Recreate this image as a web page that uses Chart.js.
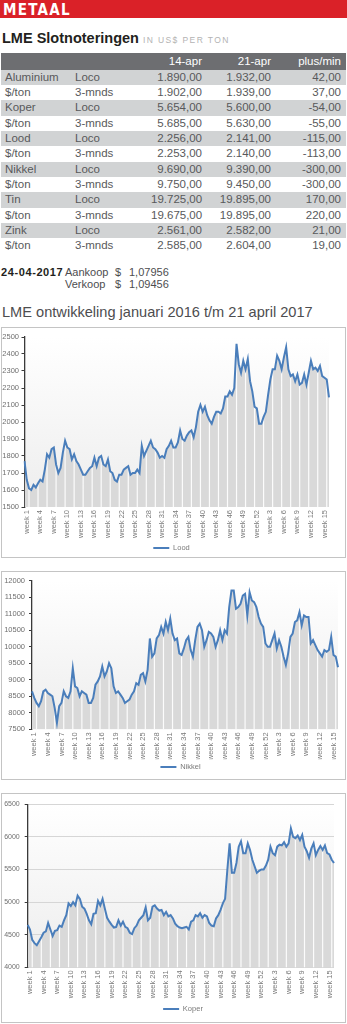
<!DOCTYPE html>
<html lang="nl">
<head>
<meta charset="utf-8">
<title>Metaal - LME</title>
<script src="https://cdn.jsdelivr.net/npm/chart.js@4.4.1/dist/chart.umd.min.js"></script>
<style>
  html, body { margin: 0; padding: 0; background: #fff; }
  body { position: relative; width: 347px; height: 1024px; overflow: hidden;
         font-family: "Liberation Sans", Arial, sans-serif; color: #58595b; }
  .kop { position: absolute; left: 0; top: 0; width: 347px; height: 17.5px; background: #da2128; }
  .kop span { position: absolute; left: 3px; top: 1px; line-height: 18px; font-size: 15px; font-weight: bold;
              font-family: "Liberation Sans Narrow", "DejaVu Sans Condensed", sans-serif; color: #fff; letter-spacing: 1.3px; }
  .titel { position: absolute; left: 2px; top: 28.8px; line-height: 17px; white-space: nowrap; }
  .titel b { font-size: 14.5px; color: #231f20; }
  .titel span { font-size: 8.5px; color: #b3b3b3; letter-spacing: 1.4px; margin-left: 4px; }
  table.koers { position: absolute; left: 1px; top: 53px; width: 345px; border-collapse: collapse;
                table-layout: fixed; font-size: 11.5px; color: #58595b; }
  .koers th { height: 16.6px; padding: 0 3px 0 0; background: #6d6e71; color: #fff; font-weight: normal;
              text-align: right; line-height: 15px; }
  .koers td { height: 15.34px; padding: 0; line-height: 15px; white-space: nowrap; }
  .koers td:nth-child(1), .koers td:nth-child(2) { padding-left: 4px; }
  .koers td:nth-child(n+3) { text-align: right; padding-right: 3px; }
  .koers td:nth-child(5), .koers th:nth-child(5) { padding-right: 5px; }
  .koers tr.grijs td { background: #d1d3d4; }
  .regel { position: absolute; line-height: 13px; font-size: 11px; color: #4d4d4f; white-space: nowrap; }
  .regel.datum { font-weight: bold; color: #231f20; letter-spacing: 0.6px; }
  .ondertitel { position: absolute; left: 2px; top: 303px; line-height: 18px; font-size: 14.6px; color: #4d4d4f; white-space: nowrap; }
  .kader { position: absolute; left: 1px; width: 345px; border: 1px solid #c4c4c4; box-sizing: border-box; }
  canvas { position: absolute; left: 2px; }
</style>
</head>
<body>
<div class="kop"><span>METAAL</span></div>
<div class="titel"><b>LME Slotnoteringen</b><span>IN US$ PER TON</span></div>

<table class="koers">
  <colgroup><col style="width:70px"><col style="width:80px"><col style="width:54px"><col style="width:69px"><col style="width:72px"></colgroup>
  <thead><tr><th></th><th></th><th>14-apr</th><th>21-apr</th><th>plus/min</th></tr></thead>
  <tbody>
    <tr class="grijs"><td>Aluminium</td><td>Loco</td><td>1.890,00</td><td>1.932,00</td><td>42,00</td></tr>
    <tr><td>$/ton</td><td>3-mnds</td><td>1.902,00</td><td>1.939,00</td><td>37,00</td></tr>
    <tr class="grijs"><td>Koper</td><td>Loco</td><td>5.654,00</td><td>5.600,00</td><td>-54,00</td></tr>
    <tr><td>$/ton</td><td>3-mnds</td><td>5.685,00</td><td>5.630,00</td><td>-55,00</td></tr>
    <tr class="grijs"><td>Lood</td><td>Loco</td><td>2.256,00</td><td>2.141,00</td><td>-115,00</td></tr>
    <tr><td>$/ton</td><td>3-mnds</td><td>2.253,00</td><td>2.140,00</td><td>-113,00</td></tr>
    <tr class="grijs"><td>Nikkel</td><td>Loco</td><td>9.690,00</td><td>9.390,00</td><td>-300,00</td></tr>
    <tr><td>$/ton</td><td>3-mnds</td><td>9.750,00</td><td>9.450,00</td><td>-300,00</td></tr>
    <tr class="grijs"><td>Tin</td><td>Loco</td><td>19.725,00</td><td>19.895,00</td><td>170,00</td></tr>
    <tr><td>$/ton</td><td>3-mnds</td><td>19.675,00</td><td>19.895,00</td><td>220,00</td></tr>
    <tr class="grijs"><td>Zink</td><td>Loco</td><td>2.561,00</td><td>2.582,00</td><td>21,00</td></tr>
    <tr><td>$/ton</td><td>3-mnds</td><td>2.585,00</td><td>2.604,00</td><td>19,00</td></tr>
  </tbody>
</table>

<div class="regel datum" style="left:1px; top:266.2px">24-04-2017</div>
<div class="regel" style="left:65px; top:266.2px">Aankoop</div>
<div class="regel" style="left:115px; top:266.2px">$</div>
<div class="regel" style="left:129px; top:266.2px">1,07956</div>
<div class="regel" style="left:65px; top:277.5px">Verkoop</div>
<div class="regel" style="left:115px; top:277.5px">$</div>
<div class="regel" style="left:129px; top:277.5px">1,09456</div>

<div class="ondertitel">LME ontwikkeling januari 2016 t/m 21 april 2017</div>

<div class="kader" style="top:327px; height:231px"></div>
<div class="kader" style="top:571px; height:209px"></div>
<div class="kader" style="top:793px; height:230px"></div>
<canvas id="grafiekLood" width="339" height="240" style="top:328px"></canvas>
<canvas id="grafiekNikkel" width="357" height="215" style="top:572px"></canvas>
<canvas id="grafiekKoper" width="362" height="230" style="top:794px"></canvas>

<script>
// weken op de x-as: 2016 week 1-52 en 2017 week 1-16, twee noteringen per week
const weken = [];
for (let w = 1; w <= 52; w++) weken.push('week ' + w);
for (let w = 1; w <= 16; w++) weken.push('week ' + w);
const categorieen = weken.flatMap(w => [w, w]);

// schaal per metaal: [min, max, stap]
const loodSchaal = [1500, 2500, 100];
const nikkelSchaal = [7500, 12000, 500];
const koperSchaal = [4000, 6500, 500];

// LME noteringen in US$ per ton
const lood = [
  1770, 1660, 1610, 1600, 1630, 1615, 1640, 1660, 1650, 1720,
  1810, 1790, 1840, 1850, 1750, 1700, 1730, 1820, 1890, 1850,
  1840, 1780, 1810, 1770, 1750, 1720, 1690, 1690, 1710, 1730,
  1740, 1790, 1740, 1790, 1800, 1750, 1740, 1780, 1710, 1700,
  1660, 1650, 1690, 1690, 1720, 1730, 1740, 1690, 1700, 1700,
  1720, 1700, 1860, 1800, 1830, 1860, 1890, 1850, 1840, 1820,
  1790, 1800, 1790, 1840, 1860, 1890, 1850, 1850, 1880, 1950,
  1900, 1890, 1920, 1940, 1950, 1910, 1970, 2060, 2100, 2060,
  2090, 2040, 2010, 1990, 2030, 2060, 2060, 2050, 2080, 2150,
  2150, 2180, 2160, 2200, 2460, 2340, 2290, 2360, 2310, 2370,
  2240, 2180, 2090, 2080, 1990, 1990, 2030, 2060, 2160, 2250,
  2310, 2310, 2390, 2360, 2310, 2380, 2440, 2310, 2270, 2280,
  2240, 2280, 2220, 2230, 2280, 2220, 2290, 2360, 2310, 2320,
  2300, 2330, 2270, 2260, 2250, 2145
];

const nikkel = [
  8650, 8450, 8300, 8200, 8350, 8650, 8700, 8600, 8550, 8500,
  8150, 7700, 8200, 8300, 8650, 8500, 8450, 8650, 9350, 8800,
  8750, 8500, 8650, 8600, 8550, 8300, 8300, 8450, 8850, 8950,
  9100, 9400, 9100, 9250, 9500, 9350, 8800, 8600, 8650, 8550,
  8450, 8300, 8350, 8400, 8550, 8650, 8900, 8850, 9150, 9200,
  8950, 9300, 10250, 9700, 9800, 10250, 10350, 10600, 10400, 10750,
  10500, 10850, 10400, 10200, 10250, 9800, 9750, 9950, 10200, 10300,
  9900, 9700, 10200, 10600, 10700, 10500, 10000, 10200, 10450, 10400,
  10300, 10000, 10200, 10500, 10200, 10500, 10400, 11200, 11700, 11700,
  11150, 11200, 11300, 11550, 11600, 10950, 11650, 11400, 11350, 11200,
  10900, 10700, 10600, 10100, 10000, 10000, 10200, 10400, 9950, 10200,
  10000, 9700, 9450, 9800, 10300, 10400, 10750, 10800, 11050, 10650,
  10950, 10900, 10900, 10100, 10200, 10050, 9900, 9800, 9700, 9900,
  9850, 9900, 10300, 9750, 9700, 9380
];

const koper = [
  4650, 4580, 4420, 4370, 4340, 4400, 4460, 4530, 4550, 4680,
  4580, 4480, 4560, 4570, 4640, 4620, 4720, 4800, 4980, 4940,
  5000, 4950, 5100, 5050, 4930, 4900, 4820, 4720, 4660, 4820,
  4830, 5020, 4950, 5050, 4900, 4760, 4700, 4650, 4610, 4620,
  4720, 4640, 4700, 4620, 4600, 4530, 4510, 4600, 4640, 4720,
  4760, 4800, 4920, 4720, 4760, 4930, 4950, 4900, 4870, 4880,
  4800, 4850, 4780, 4800, 4750, 4670, 4630, 4610, 4600, 4610,
  4620, 4580, 4700, 4720, 4800, 4780, 4830, 4760, 4800, 4780,
  4680, 4640, 4630, 4750, 4800, 4880, 4980, 5050, 5500, 5900,
  5450, 5450, 5600, 5850, 5930, 5750, 5750, 5900, 5800, 5650,
  5550, 5450, 5480, 5500, 5500, 5560, 5650, 5850, 5750, 5720,
  5850, 5880, 5870, 5920, 5850, 5900, 6130, 6000, 5980, 6020,
  5950, 6030, 5850, 5780, 5680, 5820, 5900, 5720, 5800, 5860,
  5800, 5870, 5750, 5730, 5650, 5600
];

Chart.defaults.font.family = '"Liberation Sans", Arial, sans-serif';
Chart.defaults.color = '#6f6f6f';

const lijnKleur = '#4a7ebb';
const vlakKleur = '#d9d9d9';

// licht verloop achter het plotvlak en witte streepjes door het grijze vlak
const vlakStrepen = {
  id: 'vlakStrepen',
  beforeDraw(chart) {
    const { ctx, chartArea: a } = chart;
    const g = ctx.createLinearGradient(0, a.top, 0, a.bottom);
    g.addColorStop(0, '#ffffff');
    g.addColorStop(1, '#ededed');
    ctx.save();
    ctx.fillStyle = g;
    ctx.fillRect(a.left, a.top, a.right - a.left, a.bottom - a.top);
    ctx.restore();
  },
  beforeDatasetDraw(chart, args) {
    const { ctx, chartArea: a } = chart;
    ctx.save();
    ctx.strokeStyle = 'rgba(255,255,255,0.9)';
    ctx.lineWidth = 1.2;
    ctx.beginPath();
    args.meta.data.forEach((p, i) => {
      if (i % 4 !== 2) return;
      ctx.moveTo(p.x, a.bottom);
      ctx.lineTo(p.x, p.y + 1);
    });
    ctx.stroke();
    ctx.restore();
  }
};

function tekenGrafiek(id, naam, waarden, schaal, maat) {
  const [min, max, stap] = schaal;
  return new Chart(document.getElementById(id), {
    type: 'line',
    data: {
      labels: categorieen,
      datasets: [{
        label: naam,
        data: waarden,
        borderColor: lijnKleur,
        backgroundColor: vlakKleur,
        borderWidth: 2,
        pointRadius: 0,
        fill: 'start',
        tension: 0
      }]
    },
    options: {
      responsive: false,
      animation: false,
      layout: { padding: { left: 0, right: 0, top: maat.boven, bottom: maat.onder } },
      plugins: {
        legend: {
          position: 'bottom',
          labels: {
            usePointStyle: true, pointStyle: 'line', pointStyleWidth: 16,
            padding: 4, color: '#7a7a7a', font: { size: 7.5 }
          }
        },
        tooltip: { enabled: false }
      },
      scales: {
        x: {
          grid: { display: false, drawTicks: false },
          border: { display: false },
          ticks: {
            autoSkip: false, minRotation: 90, maxRotation: 90, padding: 3,
            color: '#7a7a7a', font: { size: 7.5 },
            // om de drie weken een label
            callback(v, i) { return i % 6 === 1 ? this.getLabelForValue(v) : ''; }
          },
          afterFit(s) { s.height = maat.xHoogte; }
        },
        y: {
          min, max,
          ticks: {
            stepSize: stap, padding: maat.labelAfstand, color: '#6f6f6f', font: { size: maat.labelMaat },
            callback: v => String(v)
          },
          grid: { drawOnChartArea: maat.rasterLijnen, color: '#d6d6d6', tickColor: '#3a3a3a', tickLength: 3 },
          border: { color: '#3a3a3a', width: 1.3 },
          afterFit(s) { s.width = maat.yBreedte; }
        },
        // lege ruimte rechts, houdt de legenda op zijn plek
        y2: {
          type: 'linear', axis: 'y', position: 'right',
          grid: { display: false, drawTicks: false },
          border: { display: false },
          ticks: { display: false },
          afterFit(s) { s.width = maat.rechts; }
        }
      }
    },
    plugins: [vlakStrepen]
  });
}

tekenGrafiek('grafiekLood', 'Lood', lood, loodSchaal,
  { rechts: 8.5, boven: 9, onder: 6.25, xHoogte: 33.25, yBreedte: 22.5,
    labelAfstand: 2.5, labelMaat: 7.5, rasterLijnen: false });
tekenGrafiek('grafiekNikkel', 'Nikkel', nikkel, nikkelSchaal,
  { rechts: 21, boven: 8.7, onder: 6.25, xHoogte: 29.95, yBreedte: 30,
    labelAfstand: 4, labelMaat: 7.5, rasterLijnen: false });
tekenGrafiek('grafiekKoper', 'Koper', koper, koperSchaal,
  { rechts: 30, boven: 10.3, onder: 1.25, xHoogte: 33.95, yBreedte: 25.7,
    labelAfstand: 5, labelMaat: 7, rasterLijnen: true });
</script>
</body>
</html>
